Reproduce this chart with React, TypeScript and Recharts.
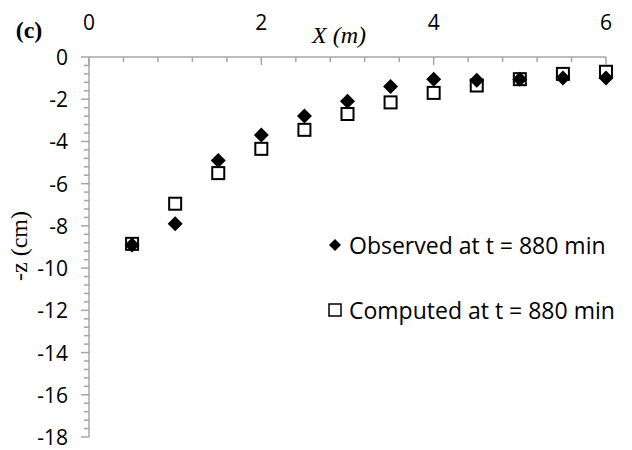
import React from 'react';
import { ScatterChart, Scatter, XAxis, YAxis } from 'recharts';

const xValues = [0.5, 1, 1.5, 2, 2.5, 3, 3.5, 4, 4.5, 5, 5.5, 6];
const observedZ = [-8.9, -7.9, -4.9, -3.7, -2.8, -2.1, -1.4, -1.05, -1.1, -1.05, -1.0, -1.0];
const computedZ = [-8.85, -6.95, -5.5, -4.35, -3.45, -2.7, -2.15, -1.7, -1.35, -1.05, -0.8, -0.7];

const xMajorTicks = [0, 2, 4, 6];
const yMajorTicks = [0, -2, -4, -6, -8, -10, -12, -14, -16, -18];
const xMinorTicks = [0, 0.4, 0.8, 1.2, 1.6, 2, 2.4, 2.8, 3.2, 3.6, 4, 4.4, 4.8, 5.2, 5.6, 6];
const yMinorTicks = Array.from({ length: 46 }, (_, i) => -Math.round(i * 4) / 10);

const observedName = 'Observed at t = 880 min';
const computedName = 'Computed at t = 880 min';

const observedData = xValues.map((x, i) => ({ x, z: observedZ[i] }));
const computedData = xValues.map((x, i) => ({ x, z: computedZ[i] }));

const AXIS_COLOR = '#a6a6a6';
const TICK_FONT = '"Open Sans", sans-serif';
const SERIF = '"Liberation Serif", "Times New Roman", serif';
const X_MARGIN = 35;
const Y_MARGIN = 20;

const isMajor = (v: number, list: number[]) => list.some((m) => Math.abs(m - v) < 1e-6);

const XTick = (props: any) => {
  const { x, y, payload } = props;
  const axisY = y + X_MARGIN;
  const major = isMajor(payload.value, xMajorTicks);
  return (
    <g>
      <line x1={x} x2={x} y1={axisY} y2={axisY + (major ? 8 : 5)} stroke={AXIS_COLOR} strokeWidth={1.5} />
      {major && (
        <text x={x} y={y} textAnchor="middle" dominantBaseline="central" fontFamily={TICK_FONT} fontSize={21} fill="#000">
          {payload.value}
        </text>
      )}
    </g>
  );
};

const YTick = (props: any) => {
  const { x, y, payload } = props;
  const axisX = x + Y_MARGIN;
  const major = isMajor(payload.value, yMajorTicks);
  return (
    <g>
      <line x1={axisX - (major ? 8 : 5)} x2={axisX} y1={y} y2={y} stroke={AXIS_COLOR} strokeWidth={1.5} />
      {major && (
        <text x={axisX - 21} y={y} textAnchor="end" dominantBaseline="central" fontFamily={TICK_FONT} fontSize={21} fill="#000">
          {payload.value}
        </text>
      )}
    </g>
  );
};

const Diamond = (props: any) => {
  const { cx, cy } = props;
  const r = 7.5;
  return <path d={`M${cx},${cy - r}L${cx + r},${cy}L${cx},${cy + r}L${cx - r},${cy}Z`} fill="#000" />;
};

const Square = (props: any) => {
  const { cx, cy } = props;
  const s = 12;
  return <rect x={cx - s / 2} y={cy - s / 2} width={s} height={s} fill="#fff" stroke="#000" strokeWidth={2} />;
};

const LegendBox = () => (
  <div
    style={{
      position: 'absolute',
      left: 326,
      top: 230,
      fontFamily: TICK_FONT,
      fontSize: 23,
      color: '#000',
      lineHeight: '30px',
      whiteSpace: 'nowrap',
    }}
  >
    <div style={{ display: 'flex', alignItems: 'center', height: 30 }}>
      <svg width={18} height={18} style={{ marginRight: 5 }}>
        <path d="M9,3L15,9L9,15L3,9Z" fill="#000" />
      </svg>
      <span>{observedName}</span>
    </div>
    <div style={{ height: 35 }} />
    <div style={{ display: 'flex', alignItems: 'center', height: 30 }}>
      <svg width={18} height={18} style={{ marginRight: 5 }}>
        <rect x={3} y={3} width={12} height={12} fill="#fff" stroke="#000" strokeWidth={1.5} />
      </svg>
      <span>{computedName}</span>
    </div>
  </div>
);

export default function App() {
  return (
    <div style={{ position: 'absolute', left: 0, top: 0, width: 632, height: 450, background: '#fff' }}>
      <ScatterChart width={632} height={450} margin={{ top: 0, right: 26, bottom: 13, left: 0 }}>
        <XAxis
          type="number"
          dataKey="x"
          orientation="top"
          domain={[0, 6]}
          ticks={xMinorTicks}
          interval={0}
          height={57}
          tickSize={0}
          tickMargin={X_MARGIN}
          tick={<XTick />}
          tickLine={false}
          axisLine={{ stroke: AXIS_COLOR, strokeWidth: 1.5 }}
        />
        <YAxis
          type="number"
          dataKey="z"
          domain={[-18, 0]}
          ticks={yMinorTicks}
          interval={0}
          width={89}
          tickSize={0}
          tickMargin={Y_MARGIN}
          tick={<YTick />}
          tickLine={false}
          axisLine={{ stroke: AXIS_COLOR, strokeWidth: 1.5 }}
        />
        <Scatter name={computedName} data={computedData} shape={<Square />} isAnimationActive={false} />
        <Scatter name={observedName} data={observedData} shape={<Diamond />} isAnimationActive={false} />
        <text x={29} y={30} textAnchor="middle" dominantBaseline="central" fontFamily={SERIF} fontWeight="bold" fontSize={24} fill="#000">
          (c)
        </text>
        <text x={339} y={35} textAnchor="middle" dominantBaseline="central" fontFamily={SERIF} fontStyle="italic" fontSize={24} fill="#000">
          X (m)
        </text>
        <text
          x={19}
          y={246}
          textAnchor="middle"
          dominantBaseline="central"
          fontFamily={SERIF}
          fontSize={24}
          fill="#000"
          transform="rotate(-90 19 246)"
        >
          -z (cm)
        </text>
      </ScatterChart>
      <LegendBox />
    </div>
  );
}
